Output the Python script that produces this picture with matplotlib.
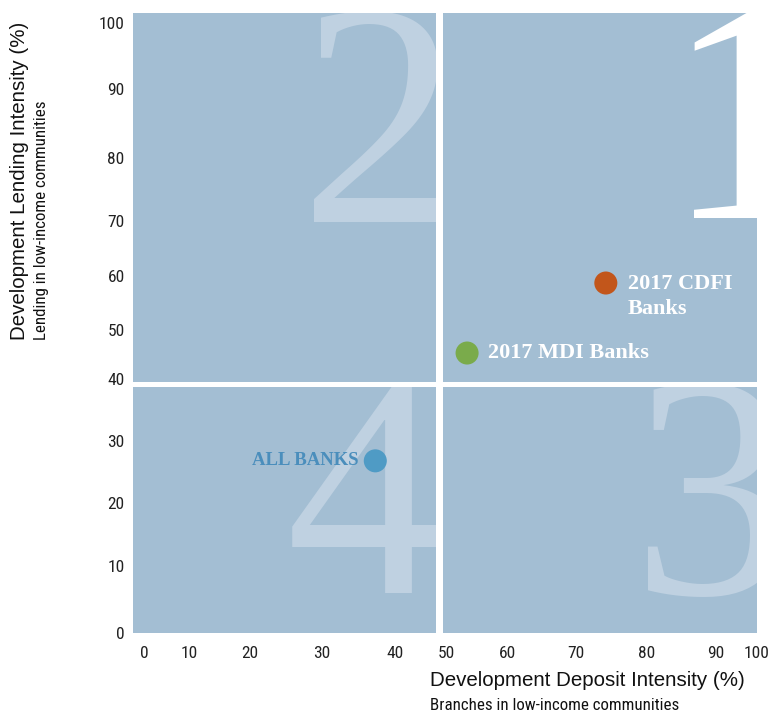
import numpy as np
import matplotlib
matplotlib.use("Agg")
import matplotlib.pyplot as plt
from matplotlib import font_manager as fm
from matplotlib.patches import Rectangle
from matplotlib.transforms import Bbox, TransformedBbox

# ---- data -------------------------------------------------------------
groups = ["ALL BANKS", "2017 MDI Banks", "2017 CDFI\nBanks"]
deposit_intensity = [37.3, 53.4, 74.2]   # x, %
lending_intensity = [26.8, 45.3, 58.7]   # y, %
point_colors = ["#4f9bc5", "#7aab4b", "#c2561b"]

tick_values = list(range(0, 101, 10))
quadrant_labels = ["1", "2", "3", "4"]

# ---- layout -------------------------------------------------------------
W, H = 777, 714
ax_left, ax_right, ax_top, ax_bottom = 133, 757, 13, 633   # pixels

# the printed axes are not evenly spaced: pixel position of each tick value
x_tick_px = [144, 189, 250, 322, 395, 446, 508, 576, 647, 716, 757]
y_tick_px = [633, 566, 503, 441, 379, 330, 276, 221, 158, 89, 23]

def extend(vals, px):
    vals = np.asarray(vals, float)
    px = np.asarray(px, float)
    s0 = (px[1] - px[0]) / (vals[1] - vals[0])
    s1 = (px[-1] - px[-2]) / (vals[-1] - vals[-2])
    v = np.concatenate([[vals[0] - 100], vals, [vals[-1] + 100]])
    p = np.concatenate([[px[0] - 100 * s0], px, [px[-1] + 100 * s1]])
    return v, p

xv, xp = extend(tick_values, x_tick_px)
yv, yp = extend(tick_values, y_tick_px)
yq = -yp  # increasing with value

x_fwd = lambda v: np.interp(v, xv, xp)
x_inv = lambda p: np.interp(p, xp, xv)
y_fwd = lambda v: np.interp(v, yv, yq)
y_inv = lambda q: np.interp(q, yq, yv)

# ---- fonts ----------------------------------------------------------------
available = {f.name for f in fm.fontManager.ttflist}
narrow = next((n for n in ["Liberation Sans Narrow", "Roboto Condensed",
                           "Open Sans Condensed", "Noto Sans Condensed"]
               if n in available), "Liberation Sans")
sans = "Liberation Sans"
serif = "Liberation Serif"

fig = plt.figure(figsize=(W / 100, H / 100), dpi=100)
ax = fig.add_axes([ax_left / W, (H - ax_bottom) / H,
                   (ax_right - ax_left) / W, (ax_bottom - ax_top) / H])

ax.set_xscale("function", functions=(x_fwd, x_inv))
ax.set_yscale("function", functions=(y_fwd, y_inv))
ax.set_xlim(float(x_inv(ax_left)), 100)
ax.set_ylim(0, float(y_inv(-ax_top)))
ax.set_xticks(tick_values)
ax.set_yticks(tick_values)
ax.minorticks_off()
ax.set_xticklabels([str(v) for v in tick_values])
ax.set_yticklabels([str(v) for v in tick_values])
ax.tick_params(axis="x", length=0, pad=9.5, labelsize=12.5, labelcolor="#222222")
ax.tick_params(axis="y", length=0, pad=6, labelsize=12.5, labelcolor="#222222")
for lab in ax.get_xticklabels() + ax.get_yticklabels():
    lab.set_fontfamily(narrow)
for s in ax.spines.values():
    s.set_visible(False)
ax.set_facecolor("white")

# ---- quadrants -------------------------------------------------------------
def fx(px):
    return (px - ax_left) / (ax_right - ax_left)

def fy(py):
    return (ax_bottom - py) / (ax_bottom - ax_top)

blue = "#a3bed3"
gap_x0, gap_x1 = fx(436), fx(443)
gap_y0, gap_y1 = fy(387), fy(382)
quads = {
    "1": (gap_x1, gap_y1, 1 - gap_x1, 1 - gap_y1),
    "2": (0, gap_y1, gap_x0, 1 - gap_y1),
    "3": (gap_x1, 0, 1 - gap_x1, gap_y0),
    "4": (0, 0, gap_x0, gap_y0),
}
for key, (x0, y0, w, h) in quads.items():
    ax.add_patch(Rectangle((x0, y0), w, h, transform=ax.transAxes,
                           facecolor=blue, edgecolor="none", zorder=0))

# big quadrant numerals, clipped to their own panel
digit_pos = {"1": (fx(666), fy(218)), "2": (fx(300), fy(222)),
             "3": (fx(632), fy(594)), "4": (fx(286), fy(593))}
digit_col = {"1": "#ffffff", "2": "#bfd1e1", "3": "#bfd1e1", "4": "#bfd1e1"}
for key in quadrant_labels:
    x0, y0, w, h = quads[key]
    t = ax.text(digit_pos[key][0], digit_pos[key][1], key, transform=ax.transAxes,
                ha="left", va="baseline", fontsize=229, family=serif,
                color=digit_col[key], zorder=1)
    t.set_clip_box(TransformedBbox(Bbox.from_bounds(x0, y0, w, h), ax.transAxes))
    t.set_clip_on(True)

# ---- points ------------------------------------------------------------------
ax.scatter(deposit_intensity, lending_intensity, s=275, c=point_colors,
           edgecolors="none", zorder=5, clip_on=False)

label_style = [
    dict(xytext=(-12, 0), ha="right", va="center", color="#4a8ebc", fontsize=13.5),
    dict(xytext=(15, 0), ha="left", va="center", color="white", fontsize=16),
    dict(xytext=(16, 6.5), ha="left", va="top", color="white", fontsize=16,
         linespacing=1.32),
]
for name, x, y, st in zip(groups, deposit_intensity, lending_intensity, label_style):
    ax.annotate(name, (x, y), textcoords="offset points", family=serif,
                fontweight="bold", zorder=6, **st)

# ---- axis titles ----------------------------------------------------------
fig.text(430 / W, 1 - 681 / H, "Development Deposit Intensity (%)",
         ha="left", va="center", fontsize=14.8, family=sans, color="#111111")
fig.text(430 / W, 1 - 706 / H, "Branches in low-income communities",
         ha="left", va="center", fontsize=12.2, family=narrow, color="#111111")
fig.text(20 / W, 1 - 340 / H, "Development Lending Intensity (%)",
         ha="center", va="bottom", rotation=90, fontsize=14.8, family=sans,
         color="#111111")
fig.text(42 / W, 1 - 340 / H, "Lending in low-income communities",
         ha="center", va="bottom", rotation=90, fontsize=12.2, family=narrow,
         color="#111111")

fig.savefig("out.png", dpi=100, facecolor="white")
